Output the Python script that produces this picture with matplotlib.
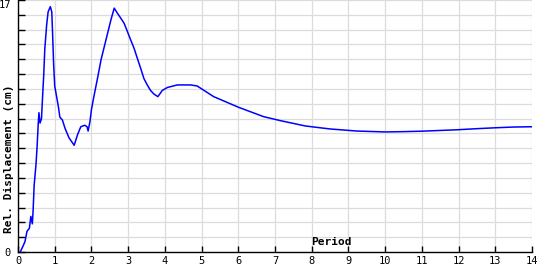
import matplotlib
matplotlib.use('Agg')
import matplotlib.pyplot as plt

# spectrum values
period = [0.06, 0.13, 0.19, 0.245, 0.31, 0.35, 0.39, 0.41, 0.44, 0.49, 0.52, 0.55,
          0.57, 0.60, 0.64, 0.67, 0.70, 0.73, 0.78, 0.82, 0.88, 0.92, 0.94, 0.97,
          1.00, 1.05, 1.10, 1.14, 1.21, 1.28, 1.39, 1.53, 1.62, 1.71, 1.82, 1.88,
          1.91, 1.96, 2.00, 2.06, 2.12, 2.18, 2.26, 2.35, 2.44, 2.53, 2.62, 2.71,
          2.80, 2.89, 2.98, 3.07, 3.16, 3.25, 3.34, 3.43, 3.52, 3.61, 3.70, 3.81,
          3.93, 4.07, 4.34, 4.70, 4.88, 5.33, 6.01, 6.69, 7.15, 7.83, 8.50, 9.23,
          10.0, 10.5, 11.0, 11.5, 12.0, 12.5, 13.0, 13.5, 14.0]
displacement = [0.0, 0.36, 0.7, 1.4, 1.6, 2.4, 1.9, 2.7, 4.5, 5.9, 7.1, 8.6,
                9.4, 8.7, 9.0, 10.5, 11.9, 13.7, 15.3, 16.2, 16.55, 16.2, 14.9, 12.7,
                11.2, 10.5, 9.8, 9.1, 8.9, 8.35, 7.7, 7.2, 7.9, 8.45, 8.55, 8.45,
                8.16, 8.8, 9.6, 10.4, 11.15, 11.9, 12.95, 13.85, 14.75, 15.65, 16.45, 16.1,
                15.77, 15.43, 14.87, 14.3, 13.75, 13.07, 12.4, 11.7, 11.27, 10.9, 10.66, 10.48,
                10.9, 11.1, 11.27, 11.27, 11.2, 10.48, 9.76, 9.13, 8.86, 8.5, 8.3, 8.16,
                8.1, 8.12, 8.15, 8.2, 8.25, 8.32, 8.38, 8.43, 8.45]

x_ticks = list(range(0, 15))
y_ticks = list(range(0, 18))
y_labels = ['0'] + [''] * 16 + ['17']

fig = plt.figure(figsize=(5.4, 2.7), dpi=100)
ax = fig.add_axes([18 / 540, 18 / 270, 514 / 540, 252 / 270])

ax.plot(period, displacement, color='#0000ff', lw=1.1, zorder=3)

ax.set_xlim(0, 14)
ax.set_ylim(0, 17)
ax.set_xticks(x_ticks)
ax.set_yticks(y_ticks)
ax.set_yticklabels(y_labels)
ax.grid(True, color='#dcdcdc', lw=0.9)
ax.set_axisbelow(True)

for s in ['top', 'right']:
    ax.spines[s].set_visible(False)
for s in ['left', 'bottom']:
    ax.spines[s].set_linewidth(1.0)

ax.tick_params(axis='x', direction='in', length=4, width=1, pad=3,
               labelsize=7.5)
ax.tick_params(axis='y', direction='in', length=5, width=1, pad=5,
               labelsize=7.5)
for lab in ax.get_xticklabels() + ax.get_yticklabels():
    lab.set_family('DejaVu Sans Mono')
ax.get_yticklabels()[-1].set_va('top')

ax.text(-0.017, 0.37, 'Rel. Displacement (cm)', transform=ax.transAxes,
        rotation=90, ha='center', va='center', family='DejaVu Sans Mono',
        fontweight='bold', fontsize=8)
ax.text(0.609, 0.04, 'Period', transform=ax.transAxes, ha='center',
        va='center', family='DejaVu Sans Mono', fontweight='bold', fontsize=8)

fig.savefig('out.png', dpi=100)
